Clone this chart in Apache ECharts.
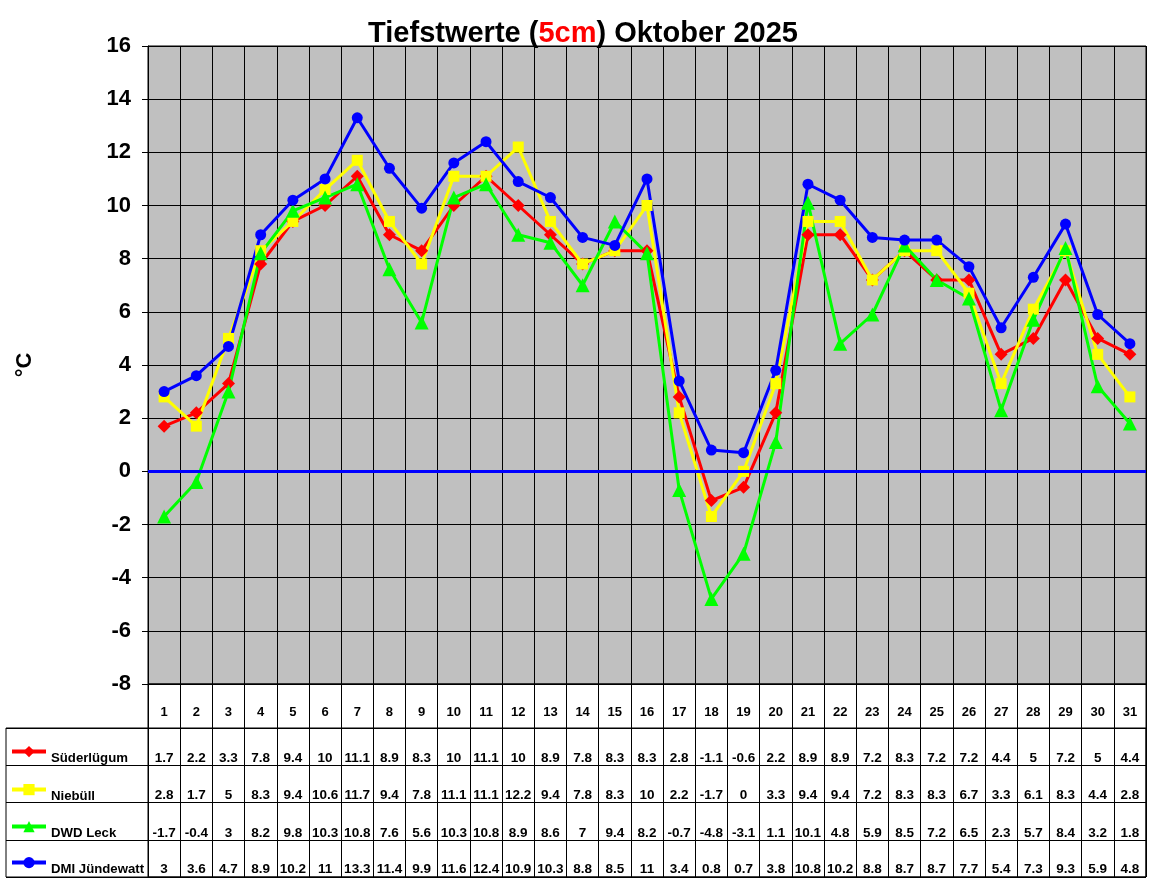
<!DOCTYPE html>
<html>
<head>
<meta charset="utf-8">
<script src="https://cdn.jsdelivr.net/npm/echarts@6/dist/echarts.min.js"></script>
<style>
  html, body { margin: 0; padding: 0; background: #fff; }
  #chart { width: 1152px; height: 882px; }
</style>
</head>
<body>
<div id="chart"></div>
<script>
var days = [];
for (var d = 1; d <= 31; d++) days.push(String(d));

var suederluegum = [1.7, 2.2, 3.3, 7.8, 9.4, 10, 11.1, 8.9, 8.3, 10, 11.1, 10, 8.9, 7.8, 8.3, 8.3, 2.8, -1.1, -0.6, 2.2, 8.9, 8.9, 7.2, 8.3, 7.2, 7.2, 4.4, 5, 7.2, 5, 4.4];
var niebuell = [2.8, 1.7, 5, 8.3, 9.4, 10.6, 11.7, 9.4, 7.8, 11.1, 11.1, 12.2, 9.4, 7.8, 8.3, 10, 2.2, -1.7, 0, 3.3, 9.4, 9.4, 7.2, 8.3, 8.3, 6.7, 3.3, 6.1, 8.3, 4.4, 2.8];
var dwdLeck = [-1.7, -0.4, 3, 8.2, 9.8, 10.3, 10.8, 7.6, 5.6, 10.3, 10.8, 8.9, 8.6, 7, 9.4, 8.2, -0.7, -4.8, -3.1, 1.1, 10.1, 4.8, 5.9, 8.5, 7.2, 6.5, 2.3, 5.7, 8.4, 3.2, 1.8];
var dmiJuendewatt = [3, 3.6, 4.7, 8.9, 10.2, 11, 13.3, 11.4, 9.9, 11.6, 12.4, 10.9, 10.3, 8.8, 8.5, 11, 3.4, 0.8, 0.7, 3.8, 10.8, 10.2, 8.8, 8.7, 8.7, 7.7, 5.4, 7.3, 9.3, 5.9, 4.8];

var seriesNames = ['Süderlügum', 'Niebüll', 'DWD Leck', 'DMI Jündewatt'];
var seriesData = [suederluegum, niebuell, dwdLeck, dmiJuendewatt];
var colors = ['#FF0000', '#FFFF00', '#00FF00', '#0000FF'];
var symbols = ['diamond', 'rect', 'triangle', 'circle'];

var font = 'Arial, "Liberation Sans", sans-serif';
var plotLeft = 148, plotWidth = 998;
var rowTops = [728, 766, 803, 841, 877];
var legendTops = [746, 784, 821, 857];

var myChart = echarts.init(document.getElementById('chart'));

var grids = [
    // main plot
    { left: plotLeft, top: 46, width: plotWidth, height: 638, show: true, backgroundColor: '#C0C0C0', borderColor: '#000', borderWidth: 1 },
    // table frame incl. legend column
    { left: 6, top: rowTops[0], width: plotLeft + plotWidth - 6, height: rowTops[4] - rowTops[0], show: true, borderColor: '#000', borderWidth: 1 },
    // table columns
    { left: plotLeft, top: 684, width: plotWidth, height: rowTops[4] - 684, show: true, borderColor: '#000', borderWidth: 1 }
];
var xAxes = [
    {
        type: 'category', gridIndex: 0, data: days, boundaryGap: true,
        axisLine: { lineStyle: { color: '#000' } },
        axisTick: { show: false },
        splitLine: { show: true, lineStyle: { color: '#000', width: 1 } },
        axisLabel: { color: '#000', fontFamily: font, fontWeight: 'bold', fontSize: 13, margin: 22 }
    },
    { type: 'value', gridIndex: 1, show: false },
    {
        type: 'category', gridIndex: 2, data: days, boundaryGap: true,
        axisLine: { show: false }, axisTick: { show: false }, axisLabel: { show: false },
        splitLine: { show: true, lineStyle: { color: '#000', width: 1 } }
    }
];
var yAxes = [
    {
        type: 'value', gridIndex: 0, min: -8, max: 16, interval: 2,
        name: '°C', nameLocation: 'middle', nameGap: 112, nameRotate: 90,
        nameTextStyle: { color: '#000', fontFamily: font, fontWeight: 'bold', fontSize: 22 },
        axisLine: { show: true, lineStyle: { color: '#000' } },
        axisTick: { show: true, length: 6, lineStyle: { color: '#000' } },
        splitLine: { show: true, lineStyle: { color: '#000', width: 1 } },
        axisLabel: { color: '#000', fontFamily: font, fontWeight: 'bold', fontSize: 22, margin: 17 }
    },
    {
        type: 'category', gridIndex: 1, data: seriesNames, inverse: true, boundaryGap: true,
        axisLine: { show: false }, axisTick: { show: false }, axisLabel: { show: false },
        splitLine: { show: true, lineStyle: { color: '#000', width: 1 } }
    },
    { type: 'value', gridIndex: 2, show: false }
];

// one row grid per series with its values as category labels
seriesData.forEach(function (vals, i) {
    grids.push({ left: plotLeft, top: rowTops[i], width: plotWidth, height: rowTops[i + 1] - rowTops[i] });
    xAxes.push({
        type: 'category', gridIndex: 3 + i, data: vals.map(String), boundaryGap: true,
        axisLine: { show: false }, axisTick: { show: false }, splitLine: { show: false },
        axisLabel: { inside: true, margin: 1, interval: 0, color: '#000', fontFamily: font, fontWeight: 'bold', fontSize: 13.5 }
    });
    yAxes.push({ type: 'value', gridIndex: 3 + i, show: false });
});

// one legend per table row, sitting in the left column
var legends = seriesNames.map(function (name, i) {
    return {
        orient: 'vertical',
        left: 10, top: legendTops[i], padding: 0,
        itemWidth: 34, itemHeight: 14,
        lineStyle: { width: 4 },
        selectedMode: false,
        formatter: '{t|{name}}',
        textStyle: {
            color: '#000', fontFamily: font, fontWeight: 'bold', fontSize: 13.2,
            rich: { t: { color: '#000', fontFamily: font, fontWeight: 'bold', fontSize: 13.2, padding: [13, 0, 0, 0] } }
        },
        data: [name]
    };
});

var series = seriesData.map(function (vals, i) {
    var s = {
        name: seriesNames[i],
        type: 'line',
        xAxisIndex: 0,
        yAxisIndex: 0,
        data: vals,
        symbol: symbols[i],
        symbolSize: symbols[i] === 'triangle' ? 14 : (symbols[i] === 'diamond' ? 13 : 11),
        color: colors[i],
        lineStyle: { color: colors[i], width: 3 },
        itemStyle: { color: colors[i] },
        animation: false
    };
    if (i === 0) {
        s.markLine = {
            silent: true, symbol: 'none',
            label: { show: false },
            lineStyle: { color: '#0000FF', width: 3, type: 'solid' },
            data: [{ yAxis: 0 }]
        };
    }
    return s;
});

var option = {
    backgroundColor: '#fff',
    animation: false,
    title: {
        text: '{a|Tiefstwerte (}{b|5cm}{a|) Oktober 2025}',
        left: 578, top: 14, textAlign: 'center',
        textStyle: {
            rich: {
                a: { color: '#000', fontFamily: font, fontWeight: 'bold', fontSize: 29 },
                b: { color: '#FF0000', fontFamily: font, fontWeight: 'bold', fontSize: 29 }
            }
        }
    },
    legend: legends,
    grid: grids,
    xAxis: xAxes,
    yAxis: yAxes,
    series: series
};
myChart.setOption(option);
</script>
</body>
</html>
